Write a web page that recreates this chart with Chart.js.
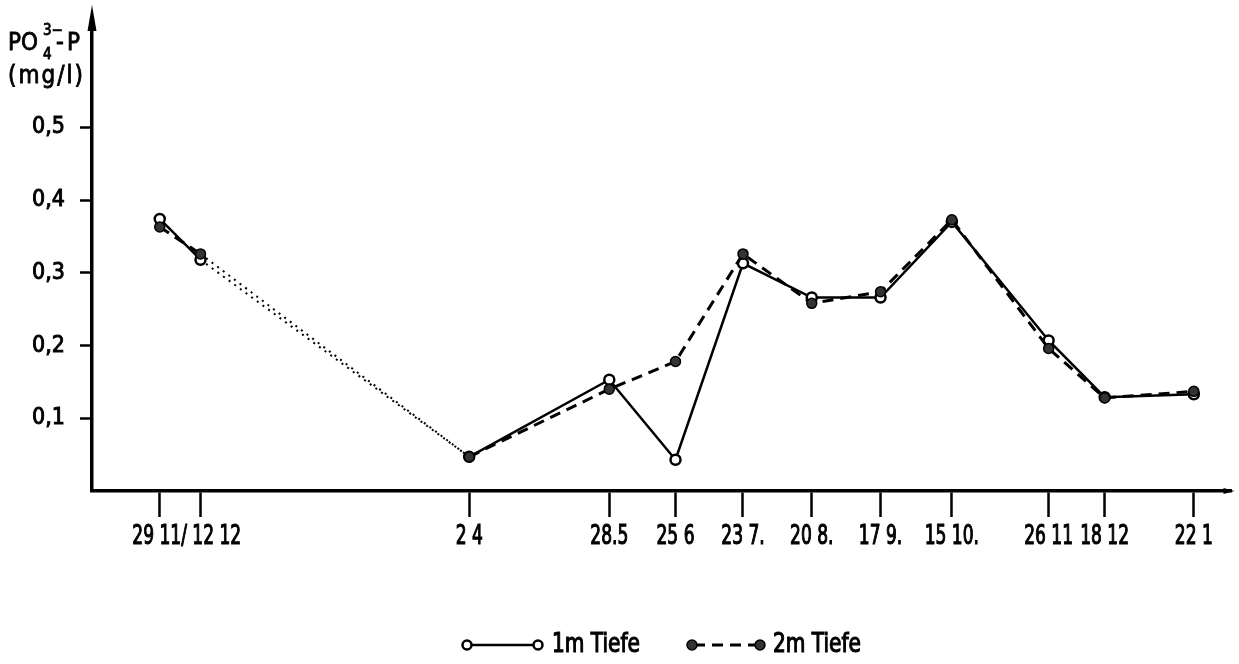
<!DOCTYPE html>
<html><head><meta charset="utf-8">
<script src="https://cdn.jsdelivr.net/npm/chart.js@4/dist/chart.umd.min.js"></script>
<style>html,body{margin:0;padding:0;background:#fff}#wrap{width:1239px;height:664px;position:relative}</style>
</head><body><div id="wrap"><canvas id="c" width="1239" height="664"></canvas></div>
<script>
// Sampling dates (tick labels as printed)
const dateLabels = ["29 11", "12 12", "2 4", "28.5", "25 6", "23 7.", "20 8.", "17 9.", "15 10.", "26 11", "18 12", "22 1"];
// Position of each date on the time axis (days after 29 Nov)
const dayPos = [0, 16, 121.5, 176.5, 202.5, 229, 256, 283, 311, 349, 371, 406];
// Combined label printed under the first two ticks
const firstPairLabel = "29 11/ 12 12";
const firstPairLabelPos = 10.6;
// PO4-P concentrations (mg/l)
const tiefe1m = [0.374, 0.318, 0.047, 0.153, 0.043, 0.313, 0.266, 0.266, 0.370, 0.207, 0.129, 0.133];
const tiefe2m = [0.363, 0.326, 0.047, 0.140, 0.178, 0.326, 0.258, 0.274, 0.373, 0.196, 0.128, 0.137];
const yTickValues = [0.1, 0.2, 0.3, 0.4, 0.5];
const seriesNames = ["1m Tiefe", "2m Tiefe"];
const gapIndex = 1; // segment 12.12 -> 2.4 is dotted (no samples in between)

const toPts = arr => arr.map((v, i) => ({x: dayPos[i], y: v}));
const FONT = "'DejaVu Sans Condensed','DejaVu Sans',sans-serif";

// draw horizontally condensed text, slightly emboldened
function narrowText(ctx, text, x, y, size, sx, align) {
  ctx.save();
  ctx.font = size + "px " + FONT;
  const w = ctx.measureText(text).width * sx;
  let left = x;
  if (align === 'center') left = x - w / 2;
  else if (align === 'right') left = x - w;
  ctx.translate(left, y);
  ctx.scale(sx, 1);
  ctx.textAlign = 'left';
  ctx.lineWidth = 1.1; ctx.strokeStyle = '#000';
  ctx.fillText(text, 0, 0);
  ctx.strokeText(text, 0, 0);
  ctx.restore();
  return w;
}
function plainText(ctx, text, x, y, size) {
  ctx.font = size + "px " + FONT;
  ctx.lineWidth = 0.8;
  ctx.fillText(text, x, y);
  ctx.strokeText(text, x, y);
}

const decor = {
  id: 'decor',
  afterDraw(chart) {
    const ctx = chart.ctx, a = chart.chartArea, xs = chart.scales.x;
    ctx.save();
    ctx.fillStyle = '#000'; ctx.strokeStyle = '#000';
    // x tick labels
    ctx.textBaseline = 'middle';
    dayPos.forEach((d, i) => {
      if (i < 2) return;
      narrowText(ctx, dateLabels[i], xs.getPixelForValue(d), 537, 26, 0.73, 'center');
    });
    narrowText(ctx, firstPairLabel, xs.getPixelForValue(firstPairLabelPos), 537, 26, 0.73, 'center');
    // y axis arrow
    const ax = a.left;
    ctx.beginPath();
    ctx.moveTo(ax, 5); ctx.lineTo(ax - 4.5, 31); ctx.lineTo(ax + 4.5, 31); ctx.closePath(); ctx.fill();
    // x axis small arrow
    ctx.beginPath();
    ctx.moveTo(a.right + 3, a.bottom); ctx.lineTo(a.right - 8, a.bottom - 3); ctx.lineTo(a.right - 8, a.bottom + 3); ctx.closePath(); ctx.fill();
    // axis title
    ctx.textBaseline = 'alphabetic'; ctx.textAlign = 'left';
    ctx.strokeStyle = '#000';
    plainText(ctx, "PO", 8, 50, 24);
    plainText(ctx, "4", 43, 59, 15);
    plainText(ctx, "3\u2212", 43, 35, 15);
    plainText(ctx, "-", 56, 50, 24);
    plainText(ctx, "P", 67, 50, 24);
    ctx.letterSpacing = "2px";
    plainText(ctx, "(mg/l)", 8, 83, 24);
    ctx.letterSpacing = "0px";
    // legend
    const ly = 645;
    ctx.lineWidth = 2.5;
    ctx.setLineDash([]);
    ctx.beginPath(); ctx.moveTo(467, ly); ctx.lineTo(538, ly); ctx.stroke();
    [467, 538].forEach(px => { ctx.beginPath(); ctx.arc(px, ly, 4.5, 0, Math.PI * 2); ctx.fillStyle = '#fff'; ctx.fill(); ctx.lineWidth = 2.5; ctx.stroke(); });
    ctx.fillStyle = '#000';
    ctx.setLineDash([11, 7]); ctx.lineWidth = 3;
    ctx.beginPath(); ctx.moveTo(694, ly); ctx.lineTo(760, ly); ctx.stroke();
    ctx.setLineDash([]);
    [692, 760].forEach(px => { ctx.beginPath(); ctx.arc(px, ly, 5, 0, Math.PI * 2); ctx.fillStyle = '#333'; ctx.fill(); ctx.lineWidth = 1.5; ctx.stroke(); });
    ctx.fillStyle = '#000';
    ctx.textBaseline = 'middle';
    narrowText(ctx, seriesNames[0], 552, ly, 27, 0.83, 'left');
    narrowText(ctx, seriesNames[1], 773, ly, 27, 0.83, 'left');
    ctx.restore();
  }
};

const dottedSeg = ctx => ctx.p0DataIndex === gapIndex;

new Chart(document.getElementById('c'), {
  type: 'line',
  data: {
    datasets: [
      {
        label: seriesNames[1], data: toPts(tiefe2m), borderColor: '#000', borderWidth: 3,
        borderDash: [11, 7], pointRadius: 5, pointBackgroundColor: '#333', pointBorderColor: '#000',
        pointBorderWidth: 1.5, tension: 0, clip: false,
        segment: { borderDash: c => dottedSeg(c) ? [2, 5] : [11, 7], borderWidth: c => dottedSeg(c) ? 2 : 3 }
      },
      {
        label: seriesNames[0], data: toPts(tiefe1m), borderColor: '#000', borderWidth: 2.5,
        pointRadius: 5, pointBackgroundColor: '#fff', pointBorderColor: '#000',
        pointBorderWidth: 2.5, tension: 0, clip: false,
        segment: { borderDash: c => dottedSeg(c) ? [2, 5] : [], borderWidth: c => dottedSeg(c) ? 2 : 2.5 }
      }
    ]
  },
  options: {
    responsive: false, animation: false, events: [],
    layout: { padding: { top: 8, right: 5, left: 0, bottom: 0 } },
    plugins: { legend: { display: false }, tooltip: { enabled: false } },
    scales: {
      x: {
        type: 'linear', min: -26.6, max: 420.8,
        afterFit: s => { s.height = 173; },
        afterBuildTicks: s => { s.ticks = dayPos.map(v => ({value: v})); },
        grid: { drawOnChartArea: false, tickLength: 26, tickWidth: 2.5, tickColor: '#000' },
        border: { display: true, color: '#000', width: 3.5 },
        ticks: { autoSkip: false, maxRotation: 0, minRotation: 0, padding: 4, color: '#000',
          font: { family: FONT, size: 25 }, callback: () => '' }
      },
      y: {
        min: 0, max: 0.6355,
        afterFit: s => { s.width = 92; },
        afterBuildTicks: s => { s.ticks = yTickValues.map(v => ({value: v})); },
        grid: { drawOnChartArea: false, tickLength: 12, tickWidth: 2.5, tickColor: '#000' },
        border: { display: true, color: '#000', width: 3.5 },
        ticks: { padding: 15, color: '#000', font: { family: FONT, size: 23 },
          textStrokeColor: '#000', textStrokeWidth: 0.9,
          callback: v => v.toFixed(1).replace('.', ',') }
      }
    }
  },
  plugins: [decor]
});
</script>
</body></html>
